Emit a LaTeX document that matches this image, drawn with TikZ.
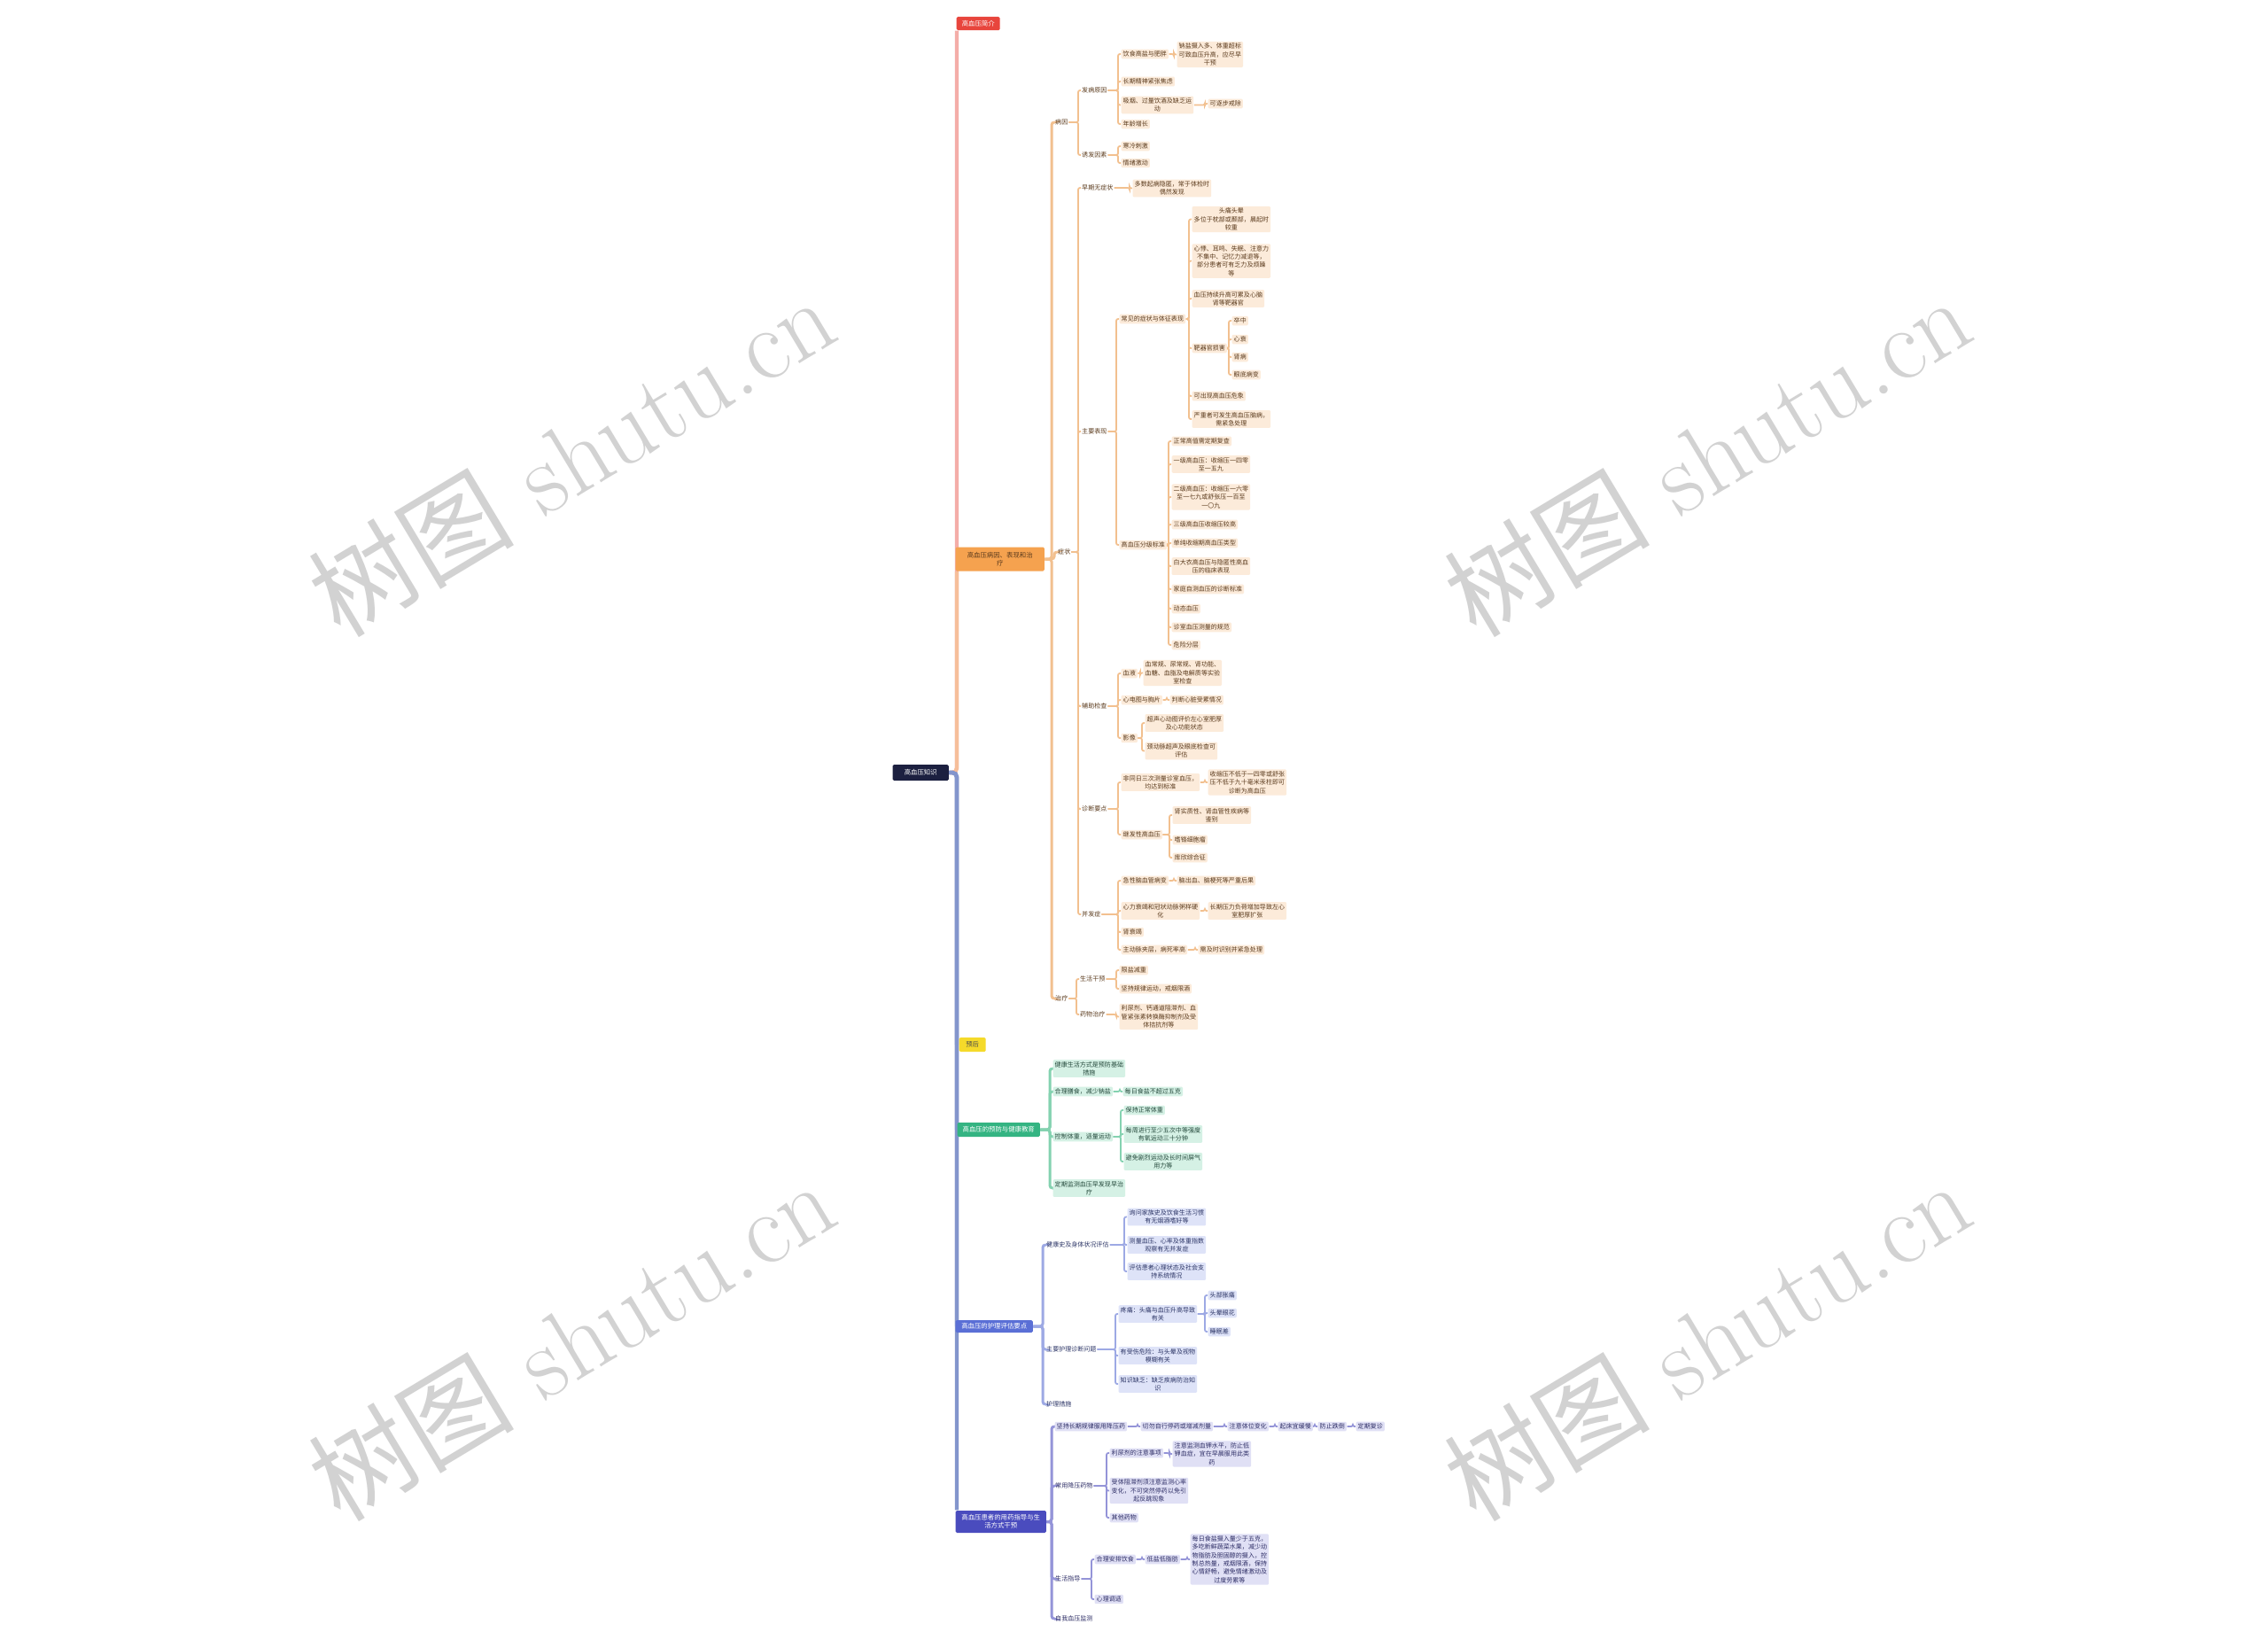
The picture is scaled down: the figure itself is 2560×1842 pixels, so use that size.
\documentclass[tikz,border=0pt]{standalone}
\usepackage{fontspec}
\newfontfamily\cjk{Noto Sans CJK SC}
\usetikzlibrary{calc,backgrounds}
\definecolor{cR}{HTML}{E8453C}
\definecolor{cRl}{HTML}{F4ADA8}
\definecolor{cO}{HTML}{F5A24F}
\definecolor{cOt}{HTML}{F6BE9A}
\definecolor{cOl}{HTML}{F2C08F}
\definecolor{oF}{HTML}{FCEBDA}
\definecolor{oT}{HTML}{5A3A1C}
\definecolor{cY}{HTML}{F5DA2A}
\definecolor{cG}{HTML}{34B482}
\definecolor{cGl}{HTML}{84D2B0}
\definecolor{gF}{HTML}{D5F1E5}
\definecolor{gT}{HTML}{24493B}
\definecolor{cB}{HTML}{5A6FD6}
\definecolor{cBl}{HTML}{9DA9E4}
\definecolor{bF}{HTML}{DEE3F8}
\definecolor{bT}{HTML}{2C3566}
\definecolor{cP}{HTML}{4A4CBE}
\definecolor{cPl}{HTML}{9494D8}
\definecolor{pF}{HTML}{E0E0F5}
\definecolor{pT}{HTML}{2E2E66}
\definecolor{cN}{HTML}{1C2040}
\definecolor{trk}{HTML}{8395CC}
\definecolor{wm}{HTML}{D2D2D2}
\newcommand\lk[3]{\foreach \ch in {#3}{\draw[#1] (#2.east) -| ($(\ch.west)+(-3,0)$) -- (\ch.west);}}
\tikzset{
 base/.style={anchor=west, font=\cjk\fontsize{2}{2.65}\selectfont, align=center, inner xsep=0.02cm, inner ysep=0.02cm, rounded corners=0.012cm},
 op/.style={base, text=oT, inner xsep=0.005cm},
 ol/.style={base, text=oT, fill=oF},
 gl/.style={base, text=gT, fill=gF},
 bp/.style={base, text=bT, inner xsep=0.005cm},
 bl/.style={base, text=bT, fill=bF},
 pp/.style={base, text=pT, inner xsep=0.005cm},
 pl/.style={base, text=pT, fill=pF},
 topbox/.style={anchor=west, font=\cjk\fontsize{2.1}{2.6}\selectfont, align=center, inner sep=0.02cm, rounded corners=0.015cm, text=white},
 ln/.style={line width=0.5pt, rounded corners=0.02cm},
 lnA/.style={line width=0.85pt, rounded corners=0.03cm},
 tk/.style={line width=1.2pt, rounded corners=0.05cm},
 wmk/.style={rotate=31, text=wm, font=\fontsize{33}{33}\selectfont},
}
\begin{document}
\begin{tikzpicture}[x=0.01cm,y=-0.01cm]
\useasboundingbox (0,0) rectangle (2560,1842);
% ---------- top level ----------
\node[topbox, fill=cN, minimum width=0.63cm, minimum height=0.18cm] (root) at (1007,872) {高血压知识};
\node[topbox, fill=cR, minimum width=0.49cm, minimum height=0.15cm] (red) at (1079,26.5) {高血压简介};
\node[topbox, fill=cO, text=oT, minimum width=1.00cm, minimum height=0.27cm] (org) at (1078,631) {高血压病因、表现和治\\疗};
\node[topbox, fill=cY, text=black!70, minimum width=0.30cm, minimum height=0.16cm] (yel) at (1082,1179) {预后};
\node[topbox, fill=cG, minimum width=0.93cm, minimum height=0.16cm] (grn) at (1080,1275) {高血压的预防与健康教育};
\node[topbox, fill=cB, minimum width=0.87cm, minimum height=0.14cm] (blu) at (1078,1497) {高血压的护理评估要点};
\node[topbox, fill=cP, minimum width=1.02cm, minimum height=0.25cm] (pur) at (1078,1717.5) {高血压患者的用药指导与生\\活方式干预};
\coordinate (tx) at (1080,872);
% ---------- orange ----------
\node[op] (A) at (1190,138) {病因};
\node[op] (B) at (1193,623) {症状};
\node[op] (C) at (1190,1127) {治疗};
\node[op] (A1) at (1220,102) {发病原因};
\node[op] (A2) at (1220,175) {诱发因素};
\node[ol] (A1a) at (1265,61) {饮食高盐与肥胖};
\node[ol] (A1aL) at (1328,61.5) {钠盐摄入多、体重超标\\可致血压升高，应尽早\\干预};
\node[ol] (A1b) at (1265,92) {长期精神紧张焦虑};
\node[ol] (A1c) at (1265,118.5) {吸烟、过量饮酒及缺乏运\\动};
\node[ol] (A1cL) at (1363,117) {可逐步戒除};
\node[ol] (A1d) at (1265,140) {年龄增长};
\node[ol] (A2a) at (1265,165) {寒冷刺激};
\node[ol] (A2b) at (1265,184) {情绪激动};
\node[op] (B1) at (1220,212) {早期无症状};
\node[ol] (B1L) at (1278,212.5) {多数起病隐匿，常于体检时\\偶然发现};
\node[op] (B2) at (1220,487) {主要表现};
\node[ol] (B2a) at (1263,360) {常见的症状与体征表现};
\node[ol] (B2a1) at (1345,247.5) {头痛头晕\\多位于枕部或颞部，晨起时\\较重};
\node[ol] (B2a2) at (1345,294.5) {心悸、耳鸣、失眠、注意力\\不集中、记忆力减退等，\\部分患者可有乏力及烦躁\\等};
\node[ol] (B2a3) at (1345,337) {血压持续升高可累及心脑\\肾等靶器官};
\node[ol] (B2a4) at (1345,393) {靶器官损害};
\node[ol] (B2a4a) at (1390,362) {卒中};
\node[ol] (B2a4b) at (1390,383) {心衰};
\node[ol] (B2a4c) at (1390,403) {肾病};
\node[ol] (B2a4d) at (1390,423) {眼底病变};
\node[ol] (B2a5) at (1345,447) {可出现高血压危象};
\node[ol] (B2a6) at (1345,473) {严重者可发生高血压脑病，\\需紧急处理};
\node[ol] (B2b) at (1263,615) {高血压分级标准};
\node[ol] (Bb1) at (1322,498) {正常高值需定期复查};
\node[ol] (Bb2) at (1322,524) {一级高血压：收缩压一四零\\至一五九};
\node[ol] (Bb3) at (1322,561) {二级高血压：收缩压一六零\\至一七九或舒张压一百至\\一〇九};
\node[ol] (Bb4) at (1322,592) {三级高血压收缩压较高};
\node[ol] (Bb5) at (1322,613) {单纯收缩期高血压类型};
\node[ol] (Bb6) at (1322,639) {白大衣高血压与隐匿性高血\\压的临床表现};
\node[ol] (Bb7) at (1322,665) {家庭自测血压的诊断标准};
\node[ol] (Bb8) at (1322,687) {动态血压};
\node[ol] (Bb9) at (1322,708) {诊室血压测量的规范};
\node[ol] (Bb10) at (1322,728) {危险分层};
\node[op] (B3) at (1220,797) {辅助检查};
\node[ol] (B3a) at (1265,760) {血液};
\node[ol] (B3aL) at (1290,759.5) {血常规、尿常规、肾功能、\\血糖、血脂及电解质等实验\\室检查};
\node[ol] (B3b) at (1265,790) {心电图与胸片};
\node[ol] (B3bL) at (1320,790) {判断心脏受累情况};
\node[ol] (B3c) at (1265,833) {影像};
\node[ol] (B3c1) at (1292,816) {超声心动图评价左心室肥厚\\及心功能状态};
\node[ol] (B3c2) at (1292,847.5) {颈动脉超声及眼底检查可\\评估};
\node[op] (B4) at (1220,913) {诊断要点};
\node[ol] (B4a) at (1265,883) {非同日三次测量诊室血压，\\均达到标准};
\node[ol] (B4aL) at (1363,883) {收缩压不低于一四零或舒张\\压不低于九十毫米汞柱即可\\诊断为高血压};
\node[ol] (B4b) at (1265,942) {继发性高血压};
\node[ol] (B4b1) at (1323,920) {肾实质性、肾血管性疾病等\\鉴别};
\node[ol] (B4b2) at (1323,948) {嗜铬细胞瘤};
\node[ol] (B4b3) at (1323,968) {库欣综合征};
\node[op] (B5) at (1220,1032) {并发症};
\node[ol] (B5a) at (1265,994) {急性脑血管病变};
\node[ol] (B5aL) at (1328,994) {脑出血、脑梗死等严重后果};
\node[ol] (B5b) at (1265,1028) {心力衰竭和冠状动脉粥样硬\\化};
\node[ol] (B5bL) at (1363,1028) {长期压力负荷增加导致左心\\室肥厚扩张};
\node[ol] (B5c) at (1265,1052) {肾衰竭};
\node[ol] (B5d) at (1265,1072) {主动脉夹层，病死率高};
\node[ol] (B5dL) at (1352,1072) {需及时识别并紧急处理};
\node[op] (C1) at (1218,1105) {生活干预};
\node[ol] (C1a) at (1263,1095) {限盐减重};
\node[ol] (C1b) at (1263,1116) {坚持规律运动，戒烟限酒};
\node[op] (C2) at (1218,1145) {药物治疗};
\node[ol] (C2L) at (1263,1147.5) {利尿剂、钙通道阻滞剂、血\\管紧张素转换酶抑制剂及受\\体拮抗剂等};
% ---------- green ----------
\node[gl] (G1) at (1188,1206) {健康生活方式是预防基础\\措施};
\node[gl] (G2) at (1188,1232) {合理膳食，减少钠盐};
\node[gl] (G2L) at (1267,1232) {每日食盐不超过五克};
\node[gl] (G3) at (1188,1283) {控制体重，适量运动};
\node[gl] (G3a) at (1268,1253) {保持正常体重};
\node[gl] (G3b) at (1268,1280) {每周进行至少五次中等强度\\有氧运动三十分钟};
\node[gl] (G3c) at (1268,1311) {避免剧烈运动及长时间屏气\\用力等};
\node[gl] (G4) at (1188,1341) {定期监测血压早发现早治\\疗};
% ---------- blue ----------
\node[bp] (H1) at (1180,1405) {健康史及身体状况评估};
\node[bl] (H1a) at (1272,1373.5) {询问家族史及饮食生活习惯\\有无烟酒嗜好等};
\node[bl] (H1b) at (1272,1405) {测量血压、心率及体重指数\\观察有无并发症};
\node[bl] (H1c) at (1272,1435) {评估患者心理状态及社会支\\持系统情况};
\node[bp] (H2) at (1180,1523) {主要护理诊断问题};
\node[bl] (H2a) at (1262,1483) {疼痛：头痛与血压升高导致\\有关};
\node[bl] (H2a1) at (1363,1462) {头部胀痛};
\node[bl] (H2a2) at (1363,1482) {头晕眼花};
\node[bl] (H2a3) at (1363,1503) {睡眠差};
\node[bl] (H2b) at (1262,1530) {有受伤危险：与头晕及视物\\模糊有关};
\node[bl] (H2c) at (1262,1562) {知识缺乏：缺乏疾病防治知\\识};
\node[bp] (H3) at (1180,1585) {护理措施};
% ---------- purple ----------
\node[pl] (P1) at (1190,1610) {坚持长期规律服用降压药};
\node[pl] (P1a) at (1287,1610) {切勿自行停药或增减剂量};
\node[pl] (P1b) at (1385,1610) {注意体位变化};
\node[pl] (P1c) at (1442,1610) {起床宜缓慢};
\node[pl] (P1d) at (1487,1610) {防止跌倒};
\node[pl] (P1e) at (1530,1610) {定期复诊};
\node[pp] (P2) at (1190,1677) {常用降压药物};
\node[pl] (P2a) at (1252,1640) {利尿剂的注意事项};
\node[pl] (P2aL) at (1323,1641) {注意监测血钾水平，防止低\\钾血症，宜在早晨服用此类\\药};
\node[pl] (P2b) at (1252,1682.5) {受体阻滞剂须注意监测心率\\变化，不可突然停药以免引\\起反跳现象};
\node[pl] (P2c) at (1252,1713) {其他药物};
\node[pp] (P3) at (1190,1782) {生活指导};
\node[pl] (P3a) at (1235,1760) {合理安排饮食};
\node[pl] (P3a1) at (1292,1760) {低盐低脂肪};
\node[pl] (P3aL) at (1343,1760) {每日食盐摄入量少于五克，\\多吃新鲜蔬菜水果，减少动\\物脂肪及胆固醇的摄入，控\\制总热量，戒烟限酒，保持\\心情舒畅，避免情绪激动及\\过度劳累等};
\node[pl] (P3b) at (1235,1805) {心理调适};
\node[pp] (P4) at (1190,1827) {自我血压监测};
% ---------- connectors & background ----------
\begin{pgfonlayer}{background}
\fill[white] (0,0) rectangle (2560,1842);
\node[wmk] at (645,514) {{\cjk 树图} shutu.cn};
\node[wmk] at (1927,514) {{\cjk 树图} shutu.cn};
\node[wmk] at (645,1512) {{\cjk 树图} shutu.cn};
\node[wmk] at (1927,1512) {{\cjk 树图} shutu.cn};
% trunk
\draw[tk, cRl] (root.east) -| (tx |- red.south);
\draw[tk, cOt] (root.east) -| (tx |- org.south);
\draw[tk, trk] (root.east) -| (tx |- pur.north);
\draw[tk, trk] (root.east) -| (tx |- blu.west);
\draw[tk, trk] (root.east) -| (tx |- grn.west);
\draw[tk, trk] (root.east) -| (tx |- yel.west);
% orange
\lk{lnA,cOl}{org}{A,B,C}
\lk{ln,cOl}{A}{A1,A2}
\lk{ln,cOl}{A1}{A1a,A1b,A1c,A1d}
\lk{ln,cOl}{A1a}{A1aL}
\lk{ln,cOl}{A1c}{A1cL}
\lk{ln,cOl}{A2}{A2a,A2b}
\lk{ln,cOl}{B}{B1,B2,B3,B4,B5}
\lk{ln,cOl}{B1}{B1L}
\lk{ln,cOl}{B2}{B2a,B2b}
\lk{ln,cOl}{B2a}{B2a1,B2a2,B2a3,B2a4,B2a5,B2a6}
\lk{ln,cOl}{B2a4}{B2a4a,B2a4b,B2a4c,B2a4d}
\lk{ln,cOl}{B2b}{Bb1,Bb2,Bb3,Bb4,Bb5,Bb6,Bb7,Bb8,Bb9,Bb10}
\lk{ln,cOl}{B3}{B3a,B3b,B3c}
\lk{ln,cOl}{B3a}{B3aL}
\lk{ln,cOl}{B3b}{B3bL}
\lk{ln,cOl}{B3c}{B3c1,B3c2}
\lk{ln,cOl}{B4}{B4a,B4b}
\lk{ln,cOl}{B4a}{B4aL}
\lk{ln,cOl}{B4b}{B4b1,B4b2,B4b3}
\lk{ln,cOl}{B5}{B5a,B5b,B5c,B5d}
\lk{ln,cOl}{B5a}{B5aL}
\lk{ln,cOl}{B5b}{B5bL}
\lk{ln,cOl}{B5d}{B5dL}
\lk{ln,cOl}{C}{C1,C2}
\lk{ln,cOl}{C1}{C1a,C1b}
\lk{ln,cOl}{C2}{C2L}
% green
\lk{lnA,cGl}{grn}{G1,G2,G3,G4}
\lk{ln,cGl}{G2}{G2L}
\lk{ln,cGl}{G3}{G3a,G3b,G3c}
% blue
\lk{lnA,cBl}{blu}{H1,H2,H3}
\lk{ln,cBl}{H1}{H1a,H1b,H1c}
\lk{ln,cBl}{H2}{H2a,H2b,H2c}
\lk{ln,cBl}{H2a}{H2a1,H2a2,H2a3}
% purple
\lk{lnA,cPl}{pur}{P1,P2,P3,P4}
\lk{ln,cPl}{P1}{P1a}
\lk{ln,cPl}{P1a}{P1b}
\lk{ln,cPl}{P1b}{P1c}
\lk{ln,cPl}{P1c}{P1d}
\lk{ln,cPl}{P1d}{P1e}
\lk{ln,cPl}{P2}{P2a,P2b,P2c}
\lk{ln,cPl}{P2a}{P2aL}
\lk{ln,cPl}{P3}{P3a,P3b}
\lk{ln,cPl}{P3a}{P3a1}
\lk{ln,cPl}{P3a1}{P3aL}
\end{pgfonlayer}
\end{tikzpicture}
\end{document}
